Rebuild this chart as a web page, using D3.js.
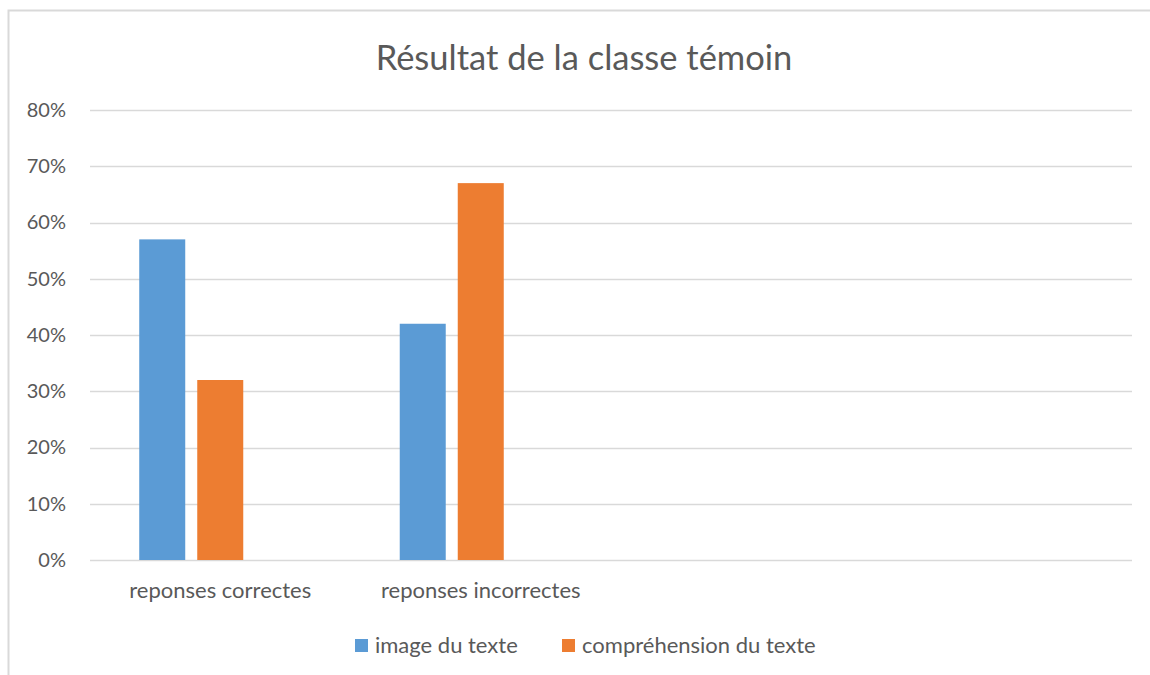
<!DOCTYPE html>
<html>
<head>
<meta charset="utf-8">
<script src="https://cdn.jsdelivr.net/npm/d3@7"></script>
<style>
  body { margin: 0; background: #fff; }
  text { font-family: Lato, "Open Sans", sans-serif; fill: #595959; }
</style>
</head>
<body>
<div id="chart"></div>
<script>
var categories = ["reponses correctes", "reponses incorrectes", "", ""];
var seriesNames = ["image du texte", "compréhension du texte", ""];
var imageDuTexte = [0.57, 0.42, null, null];
var comprehension = [0.32, 0.67, null, null];
var emptySeries = [null, null, null, null];
var yTicks = [0, 0.1, 0.2, 0.3, 0.4, 0.5, 0.6, 0.7, 0.8];
var colors = ["#5B9BD5", "#ED7D31", "#A5A5A5"];

var W = 1150, H = 675;
var margin = {top: 110, right: 18, bottom: 115, left: 90};

var svg = d3.select("#chart").append("svg")
    .attr("width", W)
    .attr("height", H);

// chart frame
svg.append("rect")
    .attr("x", 8.5).attr("y", 10.5)
    .attr("width", W + 10).attr("height", H + 10)
    .attr("fill", "none")
    .attr("stroke", "#D9D9D9")
    .attr("stroke-width", 2);

svg.append("text")
    .attr("x", 584).attr("y", 70)
    .attr("text-anchor", "middle")
    .style("font-size", "34.5px")
    .text("Résultat de la classe témoin");

var x0 = d3.scaleBand()
    .domain(d3.range(categories.length))
    .range([margin.left, W - margin.right])
    .paddingInner(0.378)
    .paddingOuter(0.189);

var x1 = d3.scaleBand()
    .domain(d3.range(seriesNames.length))
    .range([0, x0.bandwidth()])
    .paddingInner(0.207);

var y = d3.scaleLinear()
    .domain([0, 0.8])
    .range([H - margin.bottom, margin.top]);

// gridlines
svg.append("g").selectAll("line")
    .data(yTicks)
    .enter().append("line")
    .attr("x1", margin.left).attr("x2", W - margin.right)
    .attr("y1", function(d) { return Math.round(y(d)) + 0.5; })
    .attr("y2", function(d) { return Math.round(y(d)) + 0.5; })
    .attr("stroke", "#D9D9D9")
    .attr("stroke-width", 1.5);

// y axis labels
var yAxis = d3.axisLeft(y).tickValues(yTicks).tickFormat(d3.format(".0%")).tickSize(0).tickPadding(24);
svg.append("g")
    .attr("transform", "translate(" + margin.left + ",0)")
    .call(yAxis)
    .call(function(g) { g.select(".domain").remove(); })
    .selectAll("text")
    .style("font-size", "20px")
    .style("font-family", "Lato, 'Open Sans', sans-serif")
    .attr("fill", "#595959");

// bars
var allSeries = [imageDuTexte, comprehension, emptySeries];
allSeries.forEach(function(vals, s) {
  svg.append("g").selectAll("rect")
      .data(vals.map(function(v, i) { return {i: i, v: v}; }).filter(function(d) { return d.v != null; }))
      .enter().append("rect")
      .attr("x", function(d) { return x0(d.i) + x1(s); })
      .attr("width", x1.bandwidth())
      .attr("y", function(d) { return y(d.v); })
      .attr("height", function(d) { return y(0) - y(d.v); })
      .attr("fill", colors[s]);
});

// x axis labels
var xAxis = d3.axisBottom(x0).tickFormat(function(i) { return categories[i]; }).tickSize(0).tickPadding(22);
svg.append("g")
    .attr("transform", "translate(0," + y(0) + ")")
    .call(xAxis)
    .call(function(g) { g.select(".domain").remove(); })
    .selectAll("text")
    .style("font-size", "22px")
    .style("font-family", "Lato, 'Open Sans', sans-serif")
    .attr("fill", "#595959");

// legend
var legendX = [355, 562];
var legend = svg.append("g");
[0, 1].forEach(function(s) {
  legend.append("rect")
      .attr("x", legendX[s]).attr("y", 639)
      .attr("width", 13).attr("height", 13)
      .attr("fill", colors[s]);
  legend.append("text")
      .attr("x", legendX[s] + 20).attr("y", 653)
      .style("font-size", "22px")
      .text(seriesNames[s]);
});
</script>
</body>
</html>
